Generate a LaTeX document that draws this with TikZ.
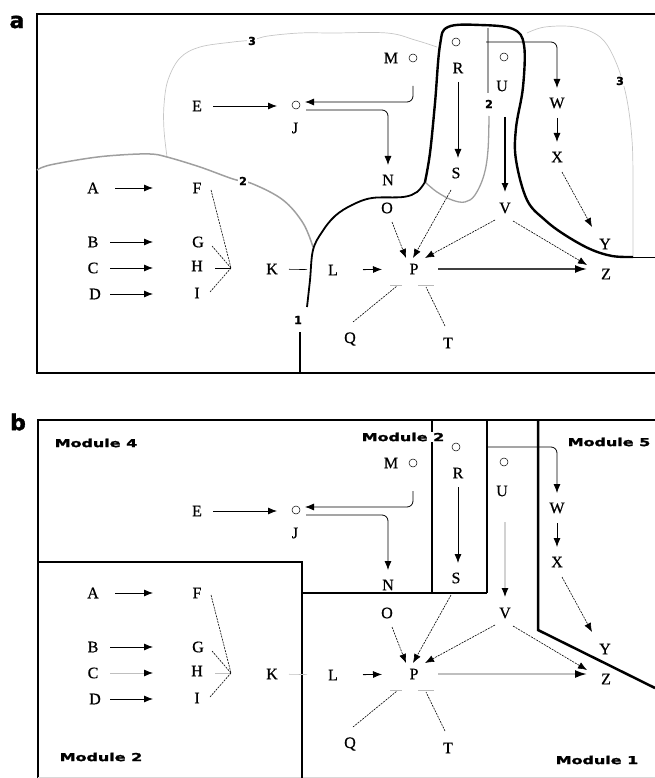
\documentclass[tikz,border=0pt]{standalone}
\usepackage{fontspec}
\setmainfont{Liberation Serif}[FakeBold=0.6]
\newfontfamily\heavy{DejaVu Sans Bold}[FakeBold=1.5]
\usetikzlibrary{arrows.meta}
\tikzset{
 lt/.style={font=\fontsize{16}{16}\selectfont, inner sep=0pt},
 arr/.style={-{Latex[length=9pt,width=7pt,black]}, line width=0.8pt},
 bigarr/.style={-{Latex[length=12pt,width=8pt,black]}, line width=1.8pt},
 dla/.style={-{Latex[length=9pt,width=7pt,black]}, line width=0.6pt, dash pattern=on 2pt off 1pt},
 dl/.style={line width=0.6pt, dash pattern=on 2pt off 1pt},
 circ/.style={circle, draw, line width=0.5pt, minimum size=8pt, inner sep=0pt},
 frame/.style={line width=2.5pt},
 numlab/.style={font=\heavy\fontsize{11}{11}\selectfont, fill=white, inner sep=1pt},
 modlab/.style={font=\heavy\fontsize{11}{11}\selectfont, inner sep=1pt},
 panlab/.style={font=\heavy\fontsize{22}{22}\selectfont, inner sep=0pt},
}
\newcommand{\drawnet}[1]{%
 \node[lt] (#1A) at (93,188) {A};
 \node[lt] (#1B) at (93,242) {B};
 \node[lt] (#1C) at (93,268) {C};
 \node[lt] (#1D) at (95,294) {D};
 \node[lt] (#1F) at (197,188) {F};
 \node[lt] (#1G) at (198,242) {G};
 \node[lt] (#1H) at (197,266) {H};
 \node[lt] (#1I) at (197,293) {I};
 \node[lt] (#1E) at (197,106) {E};
 \node[circ] (#1Jc) at (296,105) {};
 \node[lt] (#1J) at (295,128) {J};
 \node[lt] (#1K) at (272,269) {K};
 \node[lt] (#1L) at (333,270) {L};
 \node[lt] (#1P) at (414,269) {P};
 \node[lt] (#1Z) at (606,274) {Z};
 \node[lt] (#1Q) at (350,339) {Q};
 \node[lt] (#1T) at (448,343) {T};
 \node[lt] (#1M) at (391,58) {M};
 \node[circ] (#1Mc) at (413,58) {};
 \node[circ] (#1Rc) at (456,42) {};
 \node[lt] (#1R) at (458,68) {R};
 \node[circ] (#1Uc) at (504,57) {};
 \node[lt] (#1U) at (502,86) {U};
 \node[lt] (#1N) at (388,180) {N};
 \node[lt] (#1O) at (387,208) {O};
 \node[lt] (#1S) at (456,173) {S};
 \node[lt] (#1V) at (505,208) {V};
 \node[lt] (#1W) at (557,103) {W};
 \node[lt] (#1X) at (557,157) {X};
 \node[lt] (#1Y) at (605,244) {Y};
 \coordinate (#1hub) at (231,268);
 \coordinate (#1src) at (486,42);
 % input arrows
 \draw[arr, shorten <=22pt, shorten >=44pt] (#1A.center) -- (#1F.center);
 \draw[arr, shorten <=17pt, shorten >=45pt] (#1B.center) -- (#1G.center);
 \draw[arr, draw=\colC, shorten <=17pt, shorten >=44pt] (#1C.center) -- (#1C.center -| #1H.center);
 \draw[arr, shorten <=15pt, shorten >=44pt] (#1D.center) -- (#1D.center -| #1I.center);
 % convergence to hub
 \draw[dl] ([shift={(14,2)}]#1F.center) -- (#1hub);
 \draw[dl] ([shift={(14,4)}]#1G.center) -- (#1hub);
 \draw[line width=0.6pt, draw=\colH] ([shift={(18,2)}]#1H.center) -- (#1hub);
 \draw[dl] ([shift={(13,-1)}]#1I.center) -- (#1hub);
 \draw[line width=0.6pt, draw=\colK, shorten <=17pt, shorten >=26pt] (#1K.center) -- (#1L.center);
 \draw[arr, shorten <=30pt, shorten >=32pt] (#1L.center) -- (#1P.center);
 \draw[bigarr, draw=\colPZ, shorten <=24pt, shorten >=19pt] (#1P.center) -- (#1P.center -| #1Z.center);
 \draw[gray!55, line width=0.9pt] ([shift={(-24,16)}]#1P.center) -- ([shift={(-12,16)}]#1P.center);
 \draw[gray!55, line width=0.9pt] ([shift={(4,16)}]#1P.center) -- ([shift={(20,16)}]#1P.center);
 \draw[dl] ([shift={(3,-17)}]#1Q.center) -- ([shift={(-17,17)}]#1P.center);
 \draw[dl] ([shift={(-3,-17)}]#1T.center) -- ([shift={(12,18)}]#1P.center);
 \draw[dla] ([shift={(5,14)}]#1O.center) -- ([shift={(-8,-11)}]#1P.center);
 \draw[dla] ([shift={(-5,17)}]#1S.center) -- ([shift={(-1,-11)}]#1P.center);
 \draw[dla] ([shift={(-10,12)}]#1V.center) -- ([shift={(11,-11)}]#1P.center);
 \draw[dla] ([shift={(8,13)}]#1V.center) -- ([shift={(-19,-9)}]#1Z.center);
 \draw[dla] ([shift={(5,15)}]#1X.center) -- ([shift={(-13,-17)}]#1Y.center);
 \draw[arr, shorten <=15pt, shorten >=15pt] (#1W.center) -- (#1X.center);
 \draw[arr, draw=\colU, line width=1.1pt, shorten <=31pt, shorten >=16pt] (#1U.center -| #1V.center) -- (#1V.center);
 \draw[arr, shorten <=14pt, shorten >=15pt] (#1R.center) -- (#1R.center |- #1S.center);
 \draw[arr, rounded corners=6pt] (#1src) -| ([shift={(0,-15)}]#1W.center);
 \draw[arr, rounded corners=6pt] ([shift={(0,28)}]#1Mc.center) |- ([shift={(9,-3)}]#1Jc.center);
 \draw[arr, rounded corners=6pt] ([shift={(10,5)}]#1Jc.center) -| ([shift={(0,-15)}]#1N.center);
 \draw[arr, shorten <=16pt, shorten >=19pt] (#1E.center) -- (#1E.center -| #1Jc.center);
}
\begin{document}
\begin{tikzpicture}[x=1pt,y=-1pt]
\useasboundingbox (0,0) rectangle (655,778);
% ---------------- panel a ----------------
\node[panlab] (la) at (17,22) {a};
\draw[frame] (655,14) -- (37,14) -- (37,373) -- (655,373);
% boundary 3 (thin light gray)
\draw[gray!45, line width=0.7pt] plot[smooth, tension=0.6] coordinates {(167,157) (164,130) (164,105) (168,80) (180,58) (200,47) (233,42) (252,40) (268,36) (300,33) (333,33) (387,33) (415,40) (437,47)};
\draw[gray!45, line width=0.7pt] plot[smooth, tension=0.6] coordinates {(527,33) (545,27) (575,27) (600,37) (615,60) (626,95) (632,140) (633,190) (633,257)};
% boundary 2 (medium gray)
\draw[gray!75, line width=1.5pt] plot[smooth, tension=0.6] coordinates {(37,170) (50,165) (90,158) (120,155) (150,154) (167,157) (200,167) (233,179) (253,184) (283,200) (303,223) (313,247)};
\draw[gray!75, line width=1.3pt] (488,28) -- (488,93);
\draw[gray!75, line width=1.3pt] plot[smooth, tension=0.6] coordinates {(489,116) (488,150) (484,175) (475,195) (465,202) (452,200) (437,192) (425,182)};
% boundary 1 (black)
\draw[line width=1.8pt] (300,373) -- (300,332);
\draw[line width=1.8pt] plot[smooth, tension=0.6] coordinates {(307,307) (310,280) (313,250) (322,232) (335,216) (352,205) (372,198) (403,197) (417,192) (425,182)};
\draw[line width=2.4pt] plot[smooth, tension=0.6] coordinates {(425,182) (430,153) (435,103) (440,45) (448,27) (480,25) (513,29) (524,45) (523,87) (516,128) (516,160) (527,200) (545,220) (565,235) (590,249) (612,256) (633,257)};
\draw[line width=1pt] (633,257) -- (655,257);
\node[numlab] (n1) at (298,320) {1};
\node[numlab] (n2a) at (243,181) {2};
\node[numlab] (n2b) at (489,104) {2};
\node[numlab] (n3a) at (252,41) {3};
\node[numlab] (n3b) at (620,81) {3};
\def\colC{black}\def\colH{black}\def\colK{black}\def\colU{black}\def\colPZ{black!75}
\drawnet{a}
% ---------------- panel b ----------------
\node[panlab] (lb) at (18,422) {b};
\draw[frame] (655,420) -- (38,420) -- (38,778);
\draw[gray!30, line width=1pt] (38,777) -- (655,777);
\draw[frame] (38,562) -- (302,562) -- (302,778);
\draw[frame] (302,593) -- (487,593);
\draw[frame] (432,420) -- (432,593);
\draw[frame] (487,420) -- (487,593);
\draw[frame] (538,420) -- (538,630) -- (655,688);
\node[modlab] (m4) at (96,443) {\scalebox{1.45}[1]{Module 4}};
\node[modlab, fill=white] (m3) at (403,437) {\scalebox{1.45}[1]{Module 2}};
\node[modlab] (m5) at (609,442) {\scalebox{1.45}[1]{Module 5}};
\node[modlab] (m2) at (101,757) {\scalebox{1.45}[1]{Module 2}};
\node[modlab] (m1) at (597,760) {\scalebox{1.45}[1]{Module 1}};
\def\colC{gray!50}\def\colH{gray!50}\def\colK{gray!50}\def\colU{gray!35}\def\colPZ{gray!50}
\begin{scope}[shift={(0,405)}]
\drawnet{b}
\end{scope}
\end{tikzpicture}
\end{document}
